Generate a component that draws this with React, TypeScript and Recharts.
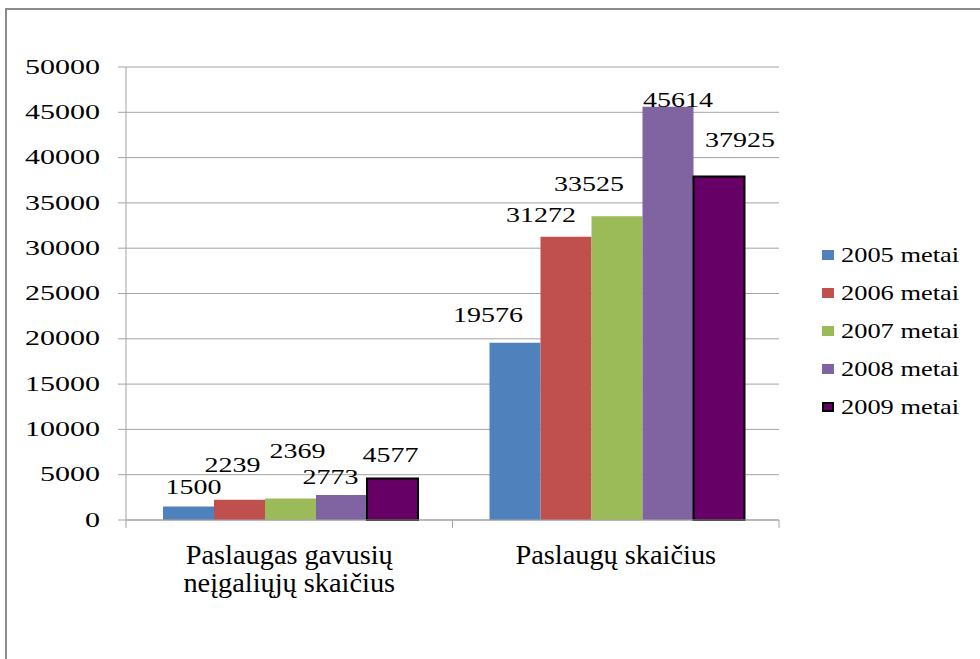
import { BarChart, Bar, XAxis, YAxis, CartesianGrid, Legend, LabelList } from 'recharts'

const categories = ['Paslaugas gavusių neįgaliųjų skaičius', 'Paslaugų skaičius']
const categoryLines = [['Paslaugas gavusių', 'neįgaliųjų skaičius'], ['Paslaugų skaičius']]
const seriesNames = ['2005 metai', '2006 metai', '2007 metai', '2008 metai', '2009 metai']
const values2005 = [1500, 19576]
const values2006 = [2239, 31272]
const values2007 = [2369, 33525]
const values2008 = [2773, 45614]
const values2009 = [4577, 37925]
const yTicks = [0, 5000, 10000, 15000, 20000, 25000, 30000, 35000, 40000, 45000, 50000]

const seriesValues = [values2005, values2006, values2007, values2008, values2009]
const data = categories.map((c, i) => {
  const row: Record<string, string | number> = { name: c, idx: i }
  seriesNames.forEach((s, k) => { row[s] = seriesValues[k][i] })
  return row
})

// colours + outline per series (Excel 2007 palette)
const fills = ['#4f81bd', '#c0504d', '#9bbb59', '#8064a2', '#660066']
const strokes = ['none', 'none', 'none', 'none', '#000000']

// hand-placed data labels: [dx from bar centre, dy of label centre from bar top]
const labelNudge = [
  [[5, -19], [-27, -28]],
  [[-7, -35], [-25, -22]],
  [[7, -48], [-28, -32]],
  [[-11, -18], [10, -7]],
  [[-2, -24], [21, -36]],
]

const FONT = 'Liberation Serif, Tinos, Times New Roman, DejaVu Serif, serif'
const GRID = '#a3a3a3'
const BAND = 326.5

function YTick(props: any) {
  const { x, y, payload } = props
  return (
    <text transform={`translate(${x},${y}) scale(1.5,1)`} textAnchor="end" dominantBaseline="central"
      style={{ fontFamily: FONT }} fontSize={20} fill="#000">
      {payload.value}
    </text>
  )
}

function XTick(props: any) {
  const { x, y, index } = props
  const lines = categoryLines[index] ?? []
  return (
    <g>
      <line x1={x - BAND / 2} x2={x - BAND / 2} y1={y} y2={y + 8} stroke={GRID} />
      {index === categories.length - 1 && (
        <line x1={x + BAND / 2} x2={x + BAND / 2} y1={y} y2={y + 8} stroke={GRID} />
      )}
      {lines.map((l, i) => (
        <text key={i} transform={`translate(${x},${y + 35 + i * 28}) scale(1.05,1)`} textAnchor="middle"
          dominantBaseline="central" style={{ fontFamily: FONT }} fontSize={27} fill="#000">
          {l}
        </text>
      ))}
    </g>
  )
}

function makeLabel(series: number) {
  return (props: any) => {
    const { x, y, width, value, index } = props
    const [dx, dy] = labelNudge[series][index]
    return (
      <text transform={`translate(${x + width / 2 + dx},${y + dy}) scale(1.4,1)`} textAnchor="middle"
        dominantBaseline="central" style={{ fontFamily: FONT }} fontSize={20} fill="#000">
        {value}
      </text>
    )
  }
}

function LegendBox() {
  return (
    <div style={{ fontFamily: FONT }}>
      {seriesNames.map((s, i) => (
        <div key={s} style={{ display: 'flex', alignItems: 'center', height: 38 }}>
          <span style={{
            display: 'inline-block', width: 12, height: 10, background: fills[i], marginRight: 7,
            boxSizing: 'border-box', border: strokes[i] === 'none' ? 'none' : `2px solid ${strokes[i]}`,
          }} />
          <span style={{ fontSize: 22, color: '#000', display: 'inline-block', transform: 'scale(1.2,1)', transformOrigin: 'left center' }}>
            {s}
          </span>
        </div>
      ))}
    </div>
  )
}

export default function App() {
  return (
    <div style={{ position: 'fixed', left: 0, top: 0, width: 980, height: 659, background: '#fff', overflow: 'hidden' }}>
      <div style={{
        position: 'absolute', left: 5, top: 8, width: 1000, height: 700,
        borderLeft: '2px solid #8c8c8c', borderTop: '2px solid #8c8c8c',
      }} />
      <div style={{ position: 'absolute', left: 0, top: 0 }}>
        <BarChart width={980} height={659} data={data} barGap={0} barCategoryGap={37}
          margin={{ top: 67, right: 201, left: 26, bottom: 39 }}>
          <CartesianGrid vertical={false} stroke={GRID} />
          <XAxis dataKey="name" height={100} axisLine={{ stroke: GRID }} tickLine={false}
            tickSize={0} tickMargin={0} tick={<XTick />} interval={0} />
          <YAxis width={100} domain={[0, 50000]} ticks={yTicks} interval={0} axisLine={{ stroke: GRID }}
            tickLine={{ stroke: GRID }} tickSize={8} tickMargin={18} tick={<YTick />} />
          <Legend layout="vertical" align="center" verticalAlign="middle" content={<LegendBox />}
            wrapperStyle={{ left: 822, top: 236, width: 160 }} />
          {seriesNames.map((s, i) => (
            <Bar key={s} dataKey={s} fill={fills[i]} stroke={strokes[i]} strokeWidth={strokes[i] === 'none' ? 0 : 2}
              isAnimationActive={false}>
              <LabelList dataKey={s} content={makeLabel(i)} />
            </Bar>
          ))}
        </BarChart>
      </div>
    </div>
  )
}
